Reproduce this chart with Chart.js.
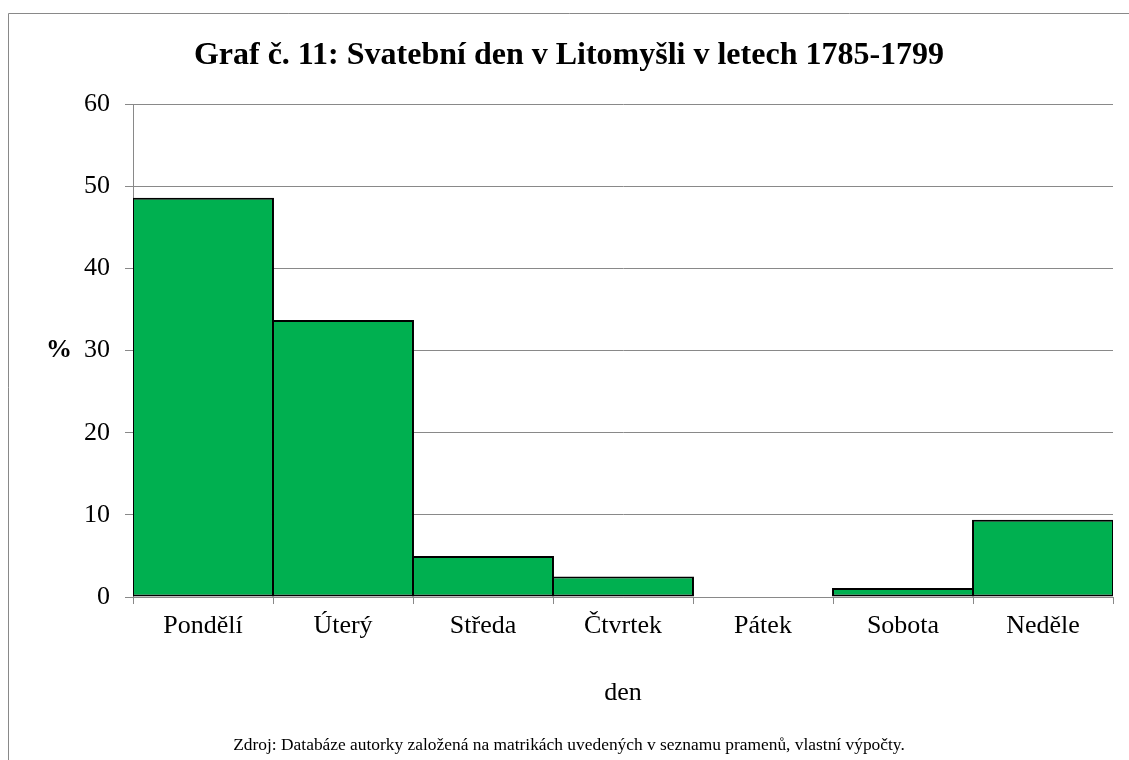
<!DOCTYPE html>
<html><head><meta charset="utf-8">
<script src="https://cdn.jsdelivr.net/npm/chart.js@4.4.0/dist/chart.umd.min.js"></script>
<style>html,body{margin:0;padding:0;background:#fff;overflow:hidden}#wrap{width:1129px;height:760px;position:relative}</style>
</head><body><div id="wrap"><canvas id="c"></canvas></div>
<script>
const categories = ['Pondělí', 'Úterý', 'Středa', 'Čtvrtek', 'Pátek', 'Sobota', 'Neděle'];
const percentValues = [48.6, 33.7, 5.0, 2.5, 0, 1.1, 9.4];
const yTickValues = [0, 10, 20, 30, 40, 50, 60];
const titleText = 'Graf č. 11: Svatební den v Litomyšli v letech 1785-1799';
const xAxisTitle = 'den';
const yAxisTitle = '%';
const sourceText = 'Zdroj: Databáze autorky založená na matrikách uvedených v seznamu pramenů, vlastní výpočty.';

const FONT = "'Liberation Serif', 'Times New Roman', serif";
const GRAY = '#898989';

const framePlugin = {
  id: 'frame',
  beforeDraw(chart) {
    const ctx = chart.ctx;
    ctx.save();
    ctx.fillStyle = '#fff';
    ctx.fillRect(0, 0, chart.width, chart.height);
    ctx.strokeStyle = GRAY;
    ctx.lineWidth = 1;
    ctx.beginPath();
    ctx.moveTo(8.5, chart.height + 5);
    ctx.lineTo(8.5, 13.5);
    ctx.lineTo(chart.width + 5, 13.5);
    ctx.stroke();
    ctx.restore();
  },
  afterDraw(chart) {
    const ctx = chart.ctx;
    const y = chart.scales.y;
    ctx.save();
    ctx.font = "bold 26px " + FONT;
    ctx.fillStyle = '#000';
    ctx.textAlign = 'center';
    ctx.textBaseline = 'middle';
    ctx.fillText(yAxisTitle, 59, y.getPixelForValue(30));
    ctx.restore();
  }
};

new Chart(document.getElementById('c'), {
  type: 'bar',
  data: {
    labels: categories,
    datasets: [{
      data: percentValues,
      backgroundColor: '#00B050',
      borderColor: '#000',
      borderWidth: 2,
      borderSkipped: false,
      categoryPercentage: 1,
      barPercentage: 1.014
    }]
  },
  options: {
    responsive: true,
    maintainAspectRatio: false,
    animation: false,
    layout: { padding: { left: 25, right: 16, top: 0, bottom: 0 } },
    plugins: {
      legend: { display: false },
      tooltip: { enabled: false },
      title: {
        display: true, text: titleText, color: '#000',
        font: { family: FONT, size: 32, weight: 'bold' },
        padding: { top: 36.8, bottom: 28.8 }
      },
      subtitle: {
        display: true, position: 'bottom', text: sourceText, color: '#000',
        font: { family: FONT, size: 17.4, weight: 'normal' },
        padding: { top: 10, bottom: 4.3 }
      }
    },
    scales: {
      x: {
        grid: { display: true, drawOnChartArea: false, drawTicks: true, tickLength: 7, color: GRAY, offset: true },
        border: { display: true, color: GRAY, width: 1 },
        ticks: { color: '#000', font: { family: FONT, size: 26 }, padding: 7, maxRotation: 0, autoSkip: false },
        title: { display: true, text: xAxisTitle, color: '#000', font: { family: FONT, size: 26 }, padding: { top: 0, bottom: 16 } },
        afterFit(s) { s.height = 127.8; }
      },
      y: {
        min: 0, max: 60,
        afterBuildTicks(s) { s.ticks = yTickValues.map(v => ({ value: v })); },
        grid: { color: GRAY, tickLength: 8 },
        border: { display: true, color: GRAY, width: 1 },
        ticks: { color: '#000', font: { family: FONT, size: 26 }, padding: 15 },
        afterFit(s) { s.width = 108; }
      }
    }
  },
  plugins: [framePlugin]
});
</script>
</body></html>
